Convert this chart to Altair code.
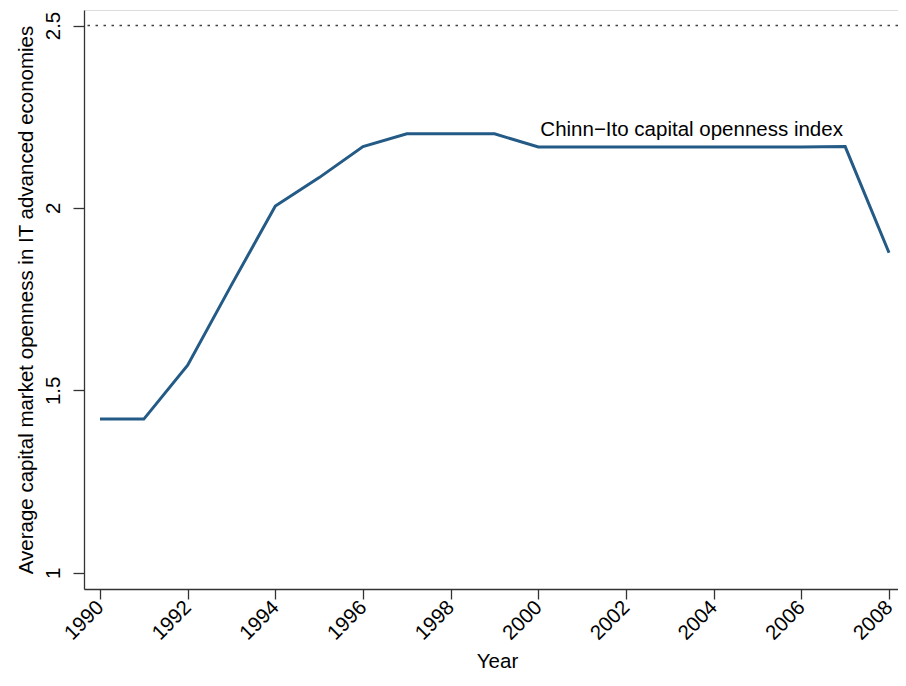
import altair as alt
import pandas as pd

years = list(range(1990, 2009))
openness = [1.421, 1.421, 1.569, 1.789, 2.005, 2.083, 2.168, 2.203, 2.203, 2.203,
            2.167, 2.167, 2.167, 2.167, 2.167, 2.167, 2.167, 2.168, 1.877]
x_ticks = list(range(1990, 2009, 2))
y_ticks = [1, 1.5, 2, 2.5]
ref_value = 2.5
label_text = "Chinn\u2212Ito capital openness index"
label_year = 2000
label_value = 2.197

df = pd.DataFrame({"Year": years, "Openness": openness})
FONT = "Liberation Sans"
FS = 20.5

xscale = alt.Scale(domain=[1989.635, 2008.205], nice=False, zero=False)
yscale = alt.Scale(domain=[0.9553, 2.5425], nice=False, zero=False)

line = alt.Chart(df).mark_line(color="#235a86", strokeWidth=3).encode(
    x=alt.X("Year:Q", scale=xscale,
            axis=alt.Axis(values=x_ticks, format="d", title="Year",
                          labelAngle=315, labelAlign="right", labelBaseline="middle",
                          labelFontSize=FS, labelFont=FONT, labelColor="#000000",
                          labelPadding=5, tickSize=10, tickColor="#333333", tickWidth=1.3,
                          domainColor="#333333", domainWidth=1.3, grid=False,
                          titleFont=FONT, titleFontSize=FS, titleFontWeight="normal",
                          titleColor="#000000", titleBaseline="alphabetic", titleY=78,
                          titleX=413, titleAlign="center", labelFlush=False, labelOverlap=False)),
    y=alt.Y("Openness:Q", scale=yscale,
            axis=alt.Axis(values=y_ticks, format="~g",
                          title="Average capital market openness in IT advanced economies",
                          labelAngle=270, labelAlign="center", labelBaseline="middle",
                          labelFontSize=FS, labelFont=FONT, labelColor="#000000",
                          labelPadding=19.5, tickSize=11, tickColor="#333333", tickWidth=1.3,
                          domainColor="#333333", domainWidth=1.3, grid=False,
                          titleFont=FONT, titleFontSize=FS, titleFontWeight="normal",
                          titleColor="#000000", titleAngle=270, titleBaseline="alphabetic",
                          titleX=-52, titleY=289.5, titleAlign="center",
                          labelFlush=False, labelOverlap=False)),
)

rule = alt.Chart(pd.DataFrame({"v": [ref_value]})).mark_rule(
    color="#404040", strokeWidth=1.5, strokeDash=[2.5, 5.5]
).encode(y=alt.Y("v:Q", scale=yscale))

label = alt.Chart(pd.DataFrame({"Year": [label_year], "Openness": [label_value],
                                "t": [label_text]})).mark_text(
    align="left", baseline="alphabetic", dx=2, fontSize=FS, font=FONT, color="#000000"
).encode(x=alt.X("Year:Q", scale=xscale), y=alt.Y("Openness:Q", scale=yscale), text="t:N")

chart = alt.layer(rule, line, label).properties(
    width=814, height=579,
    padding={"left": 76, "top": 2, "right": 0, "bottom": 84},
    autosize=alt.AutoSizeParams(type="none"),
).configure_view(stroke=None).configure(background="white")

chart.save("out.html", embed_options={"renderer": "svg", "actions": False})
